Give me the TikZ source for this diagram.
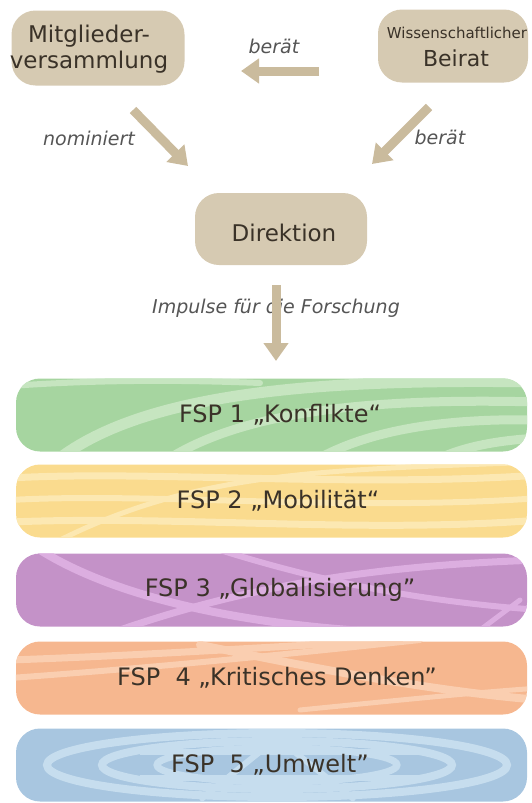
\documentclass[tikz,border=0pt]{standalone}
\usepackage{fontspec}
\setmainfont{DejaVu Sans}
\usetikzlibrary{arrows.meta}
\definecolor{tan}{RGB}{214,202,178}
\definecolor{arrowc}{RGB}{202,187,157}
\definecolor{txt}{RGB}{58,50,40}
\definecolor{lbl}{RGB}{85,85,85}
\definecolor{gbase}{RGB}{166,213,160}
\definecolor{glight}{RGB}{198,229,192}
\definecolor{ybase}{RGB}{250,219,142}
\definecolor{ylight}{RGB}{252,232,178}
\definecolor{pbase}{RGB}{196,146,200}
\definecolor{plight}{RGB}{220,174,224}
\definecolor{obase}{RGB}{246,183,143}
\definecolor{olight}{RGB}{250,206,176}
\definecolor{bbase}{RGB}{168,198,224}
\definecolor{blight}{RGB}{198,221,238}
\tikzset{
  orgbox/.style={fill=tan, rounded corners=24pt, text=txt, align=center, inner sep=0pt},
  flowarrow/.style={draw=arrowc, line width=9pt, -{Triangle[width=24pt,length=18pt]}},
  lab/.style={text=lbl, font=\fontsize{19}{22}\selectfont\itshape},
  band/.style={rounded corners=24pt, minimum width=511pt, minimum height=73pt, inner sep=0pt},
  bandtext/.style={text=txt, font=\fontsize{24}{27}\selectfont},
  swirl/.style={line width=9pt, line cap=round}
}
\begin{document}
\begin{tikzpicture}[x=1pt,y=-1pt]
\useasboundingbox (0,0) rectangle (532,803);

% top boxes
\node[orgbox, minimum width=173pt, minimum height=75pt] (mv) at (98,48) {};
\node[text=txt, font=\fontsize{23}{26}\selectfont, align=center] (mvt) at (89,49) {Mitglieder-\\versammlung};
\node[orgbox, minimum width=150pt, minimum height=73pt] (wb) at (453,46) {};
\node[text=txt, font=\fontsize{15}{17}\selectfont] (wbt1) at (457,33) {Wissenschaftlicher};
\node[text=txt, font=\fontsize{22}{24}\selectfont] (wbt2) at (456,58) {Beirat};
\node[orgbox, minimum width=172pt, minimum height=72pt] (dir) at (281,229) {};
\node[text=txt, font=\fontsize{23}{26}\selectfont] (dirt) at (284,233) {Direktion};

% arrows
\coordinate (a1s) at (319,71);
\coordinate (a1e) at (241,71);
\draw[flowarrow] (a1s) -- (a1e);
\node[lab] (l1) at (274,46) {berät};

\coordinate (a2s) at (133,110);
\coordinate (a2e) at (188,166);
\draw[flowarrow] (a2s) -- (a2e);
\node[lab] (l2) at (89,138) {nominiert};

\coordinate (a3s) at (429,107);
\coordinate (a3e) at (372,164);
\draw[flowarrow] (a3s) -- (a3e);
\node[lab] (l3) at (440,137) {berät};

\node[lab] (l4) at (276,308) {Impulse für die Forschung};
\coordinate (a4s) at (276,285);
\coordinate (a4e) at (276,361);
\draw[flowarrow] (a4s) -- (a4e);

% bands
% 1 green
\node[band, fill=gbase] (b1) at (271.5,415) {};
\begin{scope}
\clip[rounded corners=24pt] (b1.south west) rectangle (b1.north east);
\draw[swirl, glight, line width=11pt] (40,475) .. controls (120,395) and (300,378) .. (540,382);
\draw[swirl, glight] (150,472) .. controls (230,408) and (380,398) .. (540,402);
\draw[swirl, glight] (300,470) .. controls (360,428) and (450,418) .. (540,420);
\draw[swirl, glight] (420,470) .. controls (450,447) and (500,440) .. (540,438);
\draw[swirl, glight, line width=6pt] (10,386) .. controls (80,381) and (160,379) .. (260,383);
\end{scope}
\node[bandtext] (t1) at (280,415) {FSP 1 „Konflikte“};

% 2 yellow
\node[band, fill=ybase] (b2) at (271.5,501) {};
\begin{scope}
\clip[rounded corners=24pt] (b2.south west) rectangle (b2.north east);
\draw[swirl, ylight, line width=7pt] (10,478) .. controls (150,470) and (350,488) .. (540,475);
\draw[swirl, ylight, line width=6pt] (10,500) .. controls (150,492) and (350,512) .. (540,498);
\draw[swirl, ylight, line width=7pt] (10,522) .. controls (180,515) and (360,534) .. (540,520);
\draw[swirl, ylight, line width=5pt] (60,540) .. controls (200,470) and (330,470) .. (540,462);
\end{scope}
\node[bandtext] (t2) at (278,501) {FSP 2 „Mobilität“};

% 3 purple
\node[band, fill=pbase] (b3) at (271.5,590) {};
\begin{scope}
\clip[rounded corners=24pt] (b3.south west) rectangle (b3.north east);
\draw[swirl, plight, line width=8pt] (40,550) .. controls (120,600) and (250,625) .. (380,632);
\draw[swirl, plight, line width=7pt] (120,630) .. controls (250,585) and (380,565) .. (540,560);
\draw[swirl, plight, line width=6pt] (220,550) .. controls (300,575) and (400,600) .. (540,610);
\draw[swirl, plight, line width=5pt] (480,630) -- (520,600);
\end{scope}
\node[bandtext] (t3) at (280,590) {FSP 3 „Globalisierung”};

% 4 orange
\node[band, fill=obase] (b4) at (271.5,678) {};
\begin{scope}
\clip[rounded corners=24pt] (b4.south west) rectangle (b4.north east);
\draw[swirl, olight, line width=7pt] (10,660) .. controls (150,655) and (250,648) .. (400,640);
\draw[swirl, olight, line width=6pt] (10,678) .. controls (150,668) and (280,655) .. (420,640);
\draw[swirl, olight, line width=8pt] (200,645) .. controls (300,665) and (420,690) .. (540,700);
\draw[swirl, olight, line width=5pt] (300,710) .. controls (400,700) and (480,692) .. (540,688);
\end{scope}
\node[bandtext] (t4) at (277,678) {FSP\ \ 4 „Kritisches Denken”};

% 5 blue
\node[band, fill=bbase] (b5) at (271.5,765) {};
\begin{scope}
\clip[rounded corners=24pt] (b5.south west) rectangle (b5.north east);
\draw[blight, line width=8pt] (277,765) ellipse [x radius=230pt, y radius=32pt];
\draw[blight, line width=8pt] (277,765) ellipse [x radius=175pt, y radius=24pt];
\draw[blight, line width=7pt] (277,765) ellipse [x radius=120pt, y radius=17pt];
\draw[blight, line width=6pt] (140,752) -- (420,752);
\draw[blight, line width=6pt] (140,778) -- (420,778);
\draw[blight, line width=6pt] (200,800) -- (277,738) -- (355,800);
\end{scope}
\node[bandtext] (t5) at (270,765) {FSP\ \ 5 „Umwelt”};
\end{tikzpicture}
\end{document}
